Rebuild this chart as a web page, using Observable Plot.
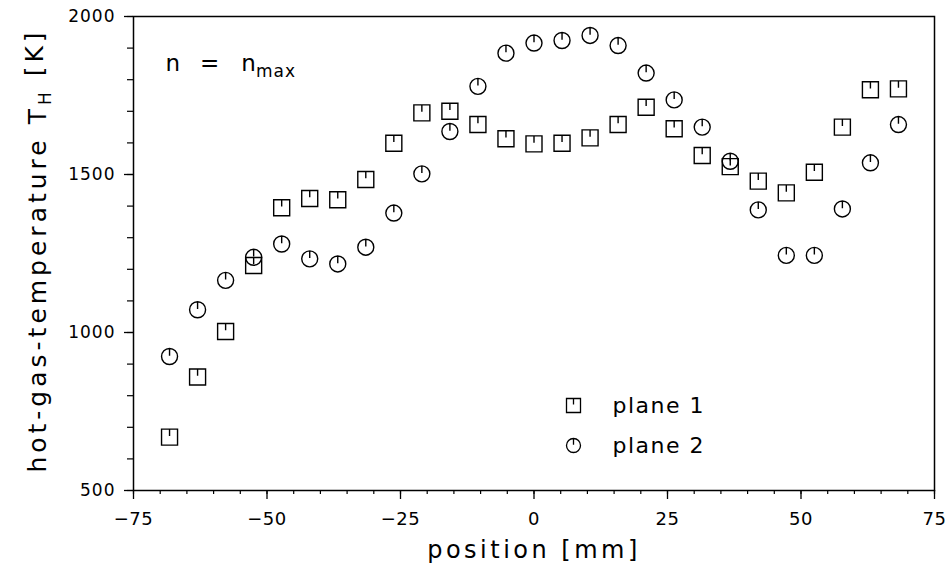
<!DOCTYPE html>
<html>
<head>
<meta charset="utf-8">
<script src="https://cdn.jsdelivr.net/npm/d3@7"></script>
<script src="https://cdn.jsdelivr.net/npm/@observablehq/plot@0.6"></script>
<style>
html, body { margin: 0; padding: 0; background: #fff; }
#chart svg { display: block; }
</style>
</head>
<body>
<div id="chart"></div>
<script>
// ---- data ----
const positions = [-68.25, -63, -57.75, -52.5, -47.25, -42, -36.75, -31.5, -26.25, -21, -15.75, -10.5, -5.25, 0,
                   5.25, 10.5, 15.75, 21, 26.25, 31.5, 36.75, 42, 47.25, 52.5, 57.75, 63, 68.25];
const plane1 = [669, 859, 1003, 1212, 1395, 1424, 1420, 1484, 1599, 1695, 1700, 1658, 1613, 1597,
                1599, 1616, 1658, 1713, 1645, 1560, 1525, 1479, 1442, 1507, 1650, 1768, 1771];
const plane2 = [924, 1072, 1165, 1238, 1280, 1233, 1217, 1270, 1378, 1502, 1636, 1779, 1884, 1916,
                1924, 1940, 1908, 1821, 1736, 1650, 1542, 1388, 1244, 1244, 1391, 1537, 1658];
const seriesNames = ["plane 1", "plane 2"];
const xTicks = [-75, -50, -25, 0, 25, 50, 75];
const yTicks = [500, 1000, 1500, 2000];
const xTitle = "position [mm]";
const yTitle = "hot-gas-temperature T";
const yTitleSub = "H";
const yTitleUnit = " [K]";
const note = "n = n";
const noteSub = "max";

// ---- custom plotter-style symbols (outline with a small tick from the top) ----
const squareTick = {
  draw(ctx, size) {
    const s = Math.sqrt(size / Math.PI);
    ctx.moveTo(-s, -s); ctx.lineTo(s, -s); ctx.lineTo(s, s); ctx.lineTo(-s, s); ctx.closePath();
    ctx.moveTo(0, -s); ctx.lineTo(0, -0.15 * s);
  }
};
const circleTick = {
  draw(ctx, size) {
    const s = Math.sqrt(size / Math.PI);
    ctx.moveTo(s, 0); ctx.arc(0, 0, s, 0, 2 * Math.PI); ctx.closePath();
    ctx.moveTo(0, -s); ctx.lineTo(0, -0.1 * s);
  }
};

const table1 = positions.map((p, i) => ({x: p, y: plane1[i]}));
const table2 = positions.map((p, i) => ({x: p, y: plane2[i]}));

const font = "DejaVu Sans";
const fmtX = d => d < 0 ? "\u2212" + Math.abs(d) : String(d);
const fmtY = d => String(d);

const chart = Plot.plot({
  width: 949,
  height: 565,
  marginLeft: 133,
  marginRight: 15,
  marginTop: 16,
  marginBottom: 75,
  style: {fontFamily: font, color: "black", background: "white"},
  x: {domain: [-75, 75]},
  y: {domain: [500, 2000]},
  marks: [
    Plot.frame({stroke: "black", strokeWidth: 1.5}),
    Plot.axisX(d3.range(-75, 76, 5), {tickSize: 4, fill: "none", label: null, strokeWidth: 1.2}),
    Plot.axisX(xTicks, {tickSize: 9, tickPadding: 13, tickFormat: fmtX, label: null, strokeWidth: 1.3}),
    Plot.axisY(d3.range(500, 2001, 100), {tickSize: 6, fill: "none", label: null, strokeWidth: 1.2}),
    Plot.axisY(yTicks, {tickSize: 9, tickPadding: 9, tickFormat: fmtY, label: null, strokeWidth: 1.3}),
    Plot.dot(table1, {x: "x", y: "y", symbol: squareTick, r: 8, stroke: "black", strokeWidth: 1.4, fill: "none"}),
    Plot.dot(table2, {x: "x", y: "y", symbol: circleTick, r: 8, stroke: "black", strokeWidth: 1.4, fill: "none"}),
    // legend
    Plot.dot([seriesNames[0]], {frameAnchor: "top-left", dx: 440, dy: 389, symbol: squareTick, r: 7, stroke: "black", strokeWidth: 1.3, fill: "none"}),
    Plot.dot([seriesNames[1]], {frameAnchor: "top-left", dx: 440, dy: 429, symbol: circleTick, r: 7, stroke: "black", strokeWidth: 1.3, fill: "none"}),
    Plot.text([seriesNames[0]], {text: d => d, frameAnchor: "top-left", dx: 479, dy: 389, textAnchor: "start", lineAnchor: "middle", fontSize: 22}),
    Plot.text([seriesNames[1]], {text: d => d, frameAnchor: "top-left", dx: 479, dy: 429, textAnchor: "start", lineAnchor: "middle", fontSize: 22}),
    // annotation
    Plot.text([note], {text: d => d, frameAnchor: "top-left", dx: 32, dy: 54, textAnchor: "start", lineAnchor: "bottom", fontSize: 23}),
    // axis titles
    Plot.text([xTitle], {text: d => d, frameAnchor: "bottom", dy: 67, textAnchor: "middle", lineAnchor: "bottom", fontSize: 24}),
    Plot.text([yTitle], {text: d => d, frameAnchor: "left", dx: -96, dy: -3, rotate: -90, textAnchor: "middle", lineAnchor: "middle", fontSize: 25})
  ]
});

document.getElementById("chart").appendChild(chart);

const svg = d3.select(chart);
const byText = list => svg.selectAll("text").filter(function () { return list.includes(this.textContent); });

byText(xTicks.map(fmtX)).style("font-size", "18px").style("letter-spacing", "0.5px");
byText(yTicks.map(fmtY)).style("font-size", "17px").style("letter-spacing", "1px");
byText(seriesNames).style("letter-spacing", "1.5px");
byText([xTitle]).style("letter-spacing", "3.5px");

// y title with subscript
byText([yTitle]).each(function () {
  const t = d3.select(this);
  const base = t.text();
  t.text(null).style("letter-spacing", "4px");
  t.append("tspan").text(base);
  t.append("tspan").attr("dy", "0.3em").attr("font-size", 17).text(yTitleSub);
  t.append("tspan").attr("dy", "-0.3em").text(yTitleUnit);
});

// note "n = n_max"
byText([note]).each(function () {
  const t = d3.select(this);
  const parts = t.text().split(" ");
  t.text(null);
  t.append("tspan").text(parts[0]);
  t.append("tspan").attr("dx", 20).text(parts[1]);
  t.append("tspan").attr("dx", 22).text(parts[2]);
  t.append("tspan").attr("dy", 6).attr("font-size", 17).style("letter-spacing", "1px").text(noteSub);
});
</script>
</body>
</html>
